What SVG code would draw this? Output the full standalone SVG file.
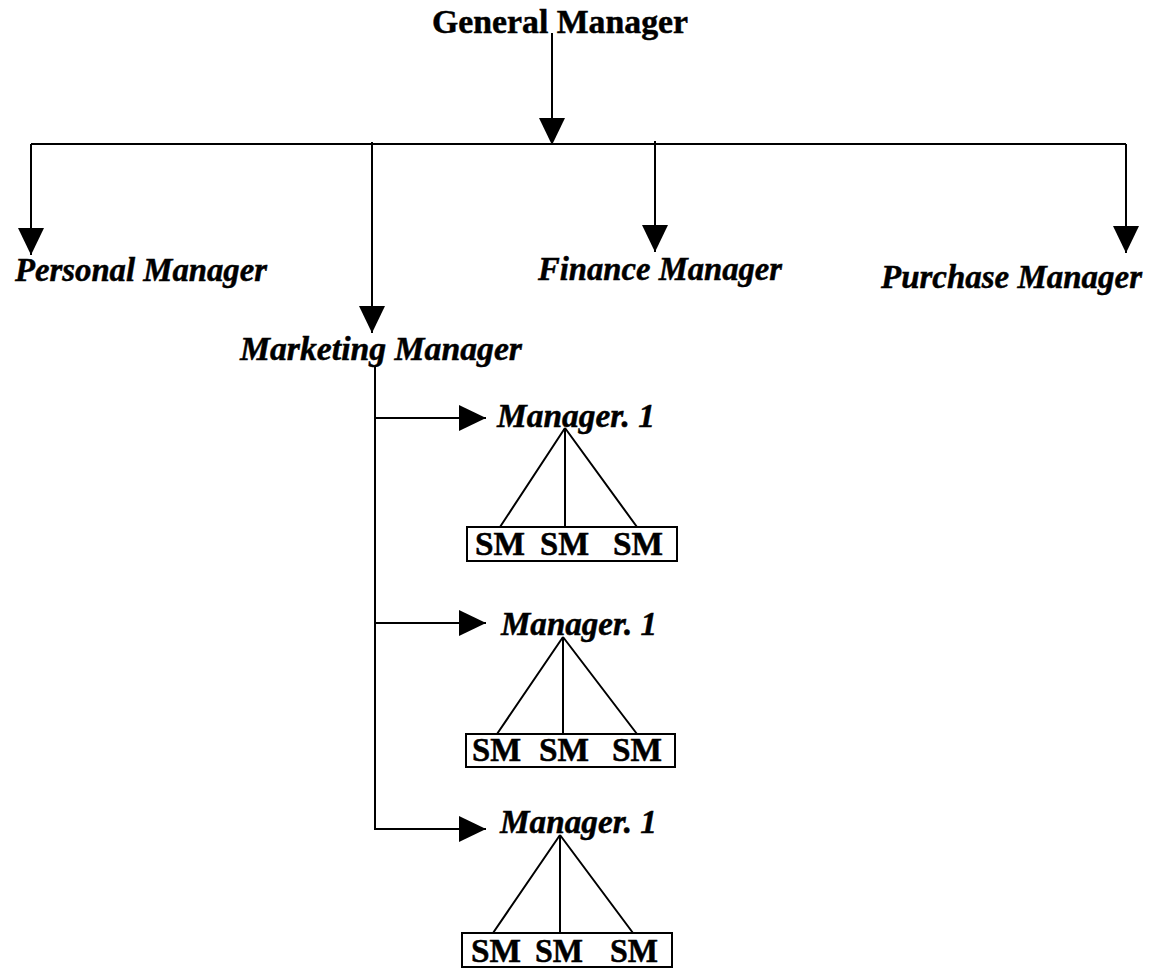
<svg xmlns="http://www.w3.org/2000/svg" width="1153" height="969" viewBox="0 0 1153 969">
  <style>
    .title { font-family: "Liberation Serif", "Times New Roman", serif; font-weight: bold; font-size: 34px; fill: #000; stroke: #000; stroke-width: 0.5; }
    .role { font-family: "Liberation Serif", "Times New Roman", serif; font-weight: bold; font-style: italic; font-size: 34px; fill: #000; stroke: #000; stroke-width: 0.5; }
    .sm { font-family: "Liberation Serif", "Times New Roman", serif; font-weight: bold; font-size: 33px; fill: #000; stroke: #000; stroke-width: 0.5; }
    .wire { fill: none; stroke: #000; stroke-width: 2; }
    .box { fill: #fff; stroke: #000; stroke-width: 2; }
  </style>
  <defs>
    <marker id="arrow" markerUnits="userSpaceOnUse" viewBox="0 0 27 26" markerWidth="27" markerHeight="26" refX="27" refY="13" orient="auto">
      <path d="M0,0 L27,13 L0,26 Z" fill="#000"/>
    </marker>
  </defs>
  <rect width="1153" height="969" fill="#fff"/>

  <!-- connectors -->
  <g id="connectors">
    <path class="wire" d="M552,33 V145" marker-end="url(#arrow)"/>
    <path class="wire" d="M31,144 H1126"/>
    <path class="wire" d="M31,144 V255" marker-end="url(#arrow)"/>
    <path class="wire" d="M372,142 V333" marker-end="url(#arrow)"/>
    <path class="wire" d="M655,141 V252" marker-end="url(#arrow)"/>
    <path class="wire" d="M1126,144 V253" marker-end="url(#arrow)"/>
    <path class="wire" d="M375,367 V829 H486" marker-end="url(#arrow)"/>
    <path class="wire" d="M375,418 H486" marker-end="url(#arrow)"/>
    <path class="wire" d="M375,623 H486" marker-end="url(#arrow)"/>
    <!-- fan-out from each manager to its sales team -->
    <path class="wire" d="M565,428 L500,527 M565,428 V527 M565,428 L637,527"/>
    <path class="wire" d="M563,637 L497,734 M563,637 V734 M563,637 L637,734"/>
    <path class="wire" d="M560,835 L493,933 M560,835 V933 M560,835 L633,933"/>
  </g>

  <g id="general-manager">
    <text class="title" x="432" y="33" textLength="256" lengthAdjust="spacingAndGlyphs">General Manager</text>
  </g>
  <g id="personal-manager">
    <text class="role" x="15" y="281" textLength="252" lengthAdjust="spacingAndGlyphs">Personal Manager</text>
  </g>
  <g id="finance-manager">
    <text class="role" x="538" y="280" textLength="244" lengthAdjust="spacingAndGlyphs">Finance Manager</text>
  </g>
  <g id="purchase-manager">
    <text class="role" x="881" y="288" textLength="261" lengthAdjust="spacingAndGlyphs">Purchase Manager</text>
  </g>
  <g id="marketing-manager">
    <text class="role" x="240" y="360" textLength="282" lengthAdjust="spacingAndGlyphs">Marketing Manager</text>
  </g>

  <g id="manager-1a">
    <text class="role" x="497" y="427" textLength="158" lengthAdjust="spacingAndGlyphs">Manager. 1</text>
  </g>
  <g id="team-1a">
    <rect class="box" x="467" y="527" width="210" height="34"/>
    <text class="sm" x="475" y="555" textLength="50" lengthAdjust="spacingAndGlyphs">SM</text>
    <text class="sm" x="540" y="555" textLength="49" lengthAdjust="spacingAndGlyphs">SM</text>
    <text class="sm" x="613" y="555" textLength="50" lengthAdjust="spacingAndGlyphs">SM</text>
  </g>

  <g id="manager-1b">
    <text class="role" x="501" y="635" textLength="156" lengthAdjust="spacingAndGlyphs">Manager. 1</text>
  </g>
  <g id="team-1b">
    <rect class="box" x="466" y="734" width="209" height="33"/>
    <text class="sm" x="472" y="761" textLength="49" lengthAdjust="spacingAndGlyphs">SM</text>
    <text class="sm" x="539" y="761" textLength="50" lengthAdjust="spacingAndGlyphs">SM</text>
    <text class="sm" x="612" y="761" textLength="50" lengthAdjust="spacingAndGlyphs">SM</text>
  </g>

  <g id="manager-1c">
    <text class="role" x="500" y="833" textLength="157" lengthAdjust="spacingAndGlyphs">Manager. 1</text>
  </g>
  <g id="team-1c">
    <rect class="box" x="462" y="933" width="210" height="34"/>
    <text class="sm" x="471" y="962" textLength="50" lengthAdjust="spacingAndGlyphs">SM</text>
    <text class="sm" x="535" y="962" textLength="48" lengthAdjust="spacingAndGlyphs">SM</text>
    <text class="sm" x="610" y="962" textLength="48" lengthAdjust="spacingAndGlyphs">SM</text>
  </g>
</svg>
